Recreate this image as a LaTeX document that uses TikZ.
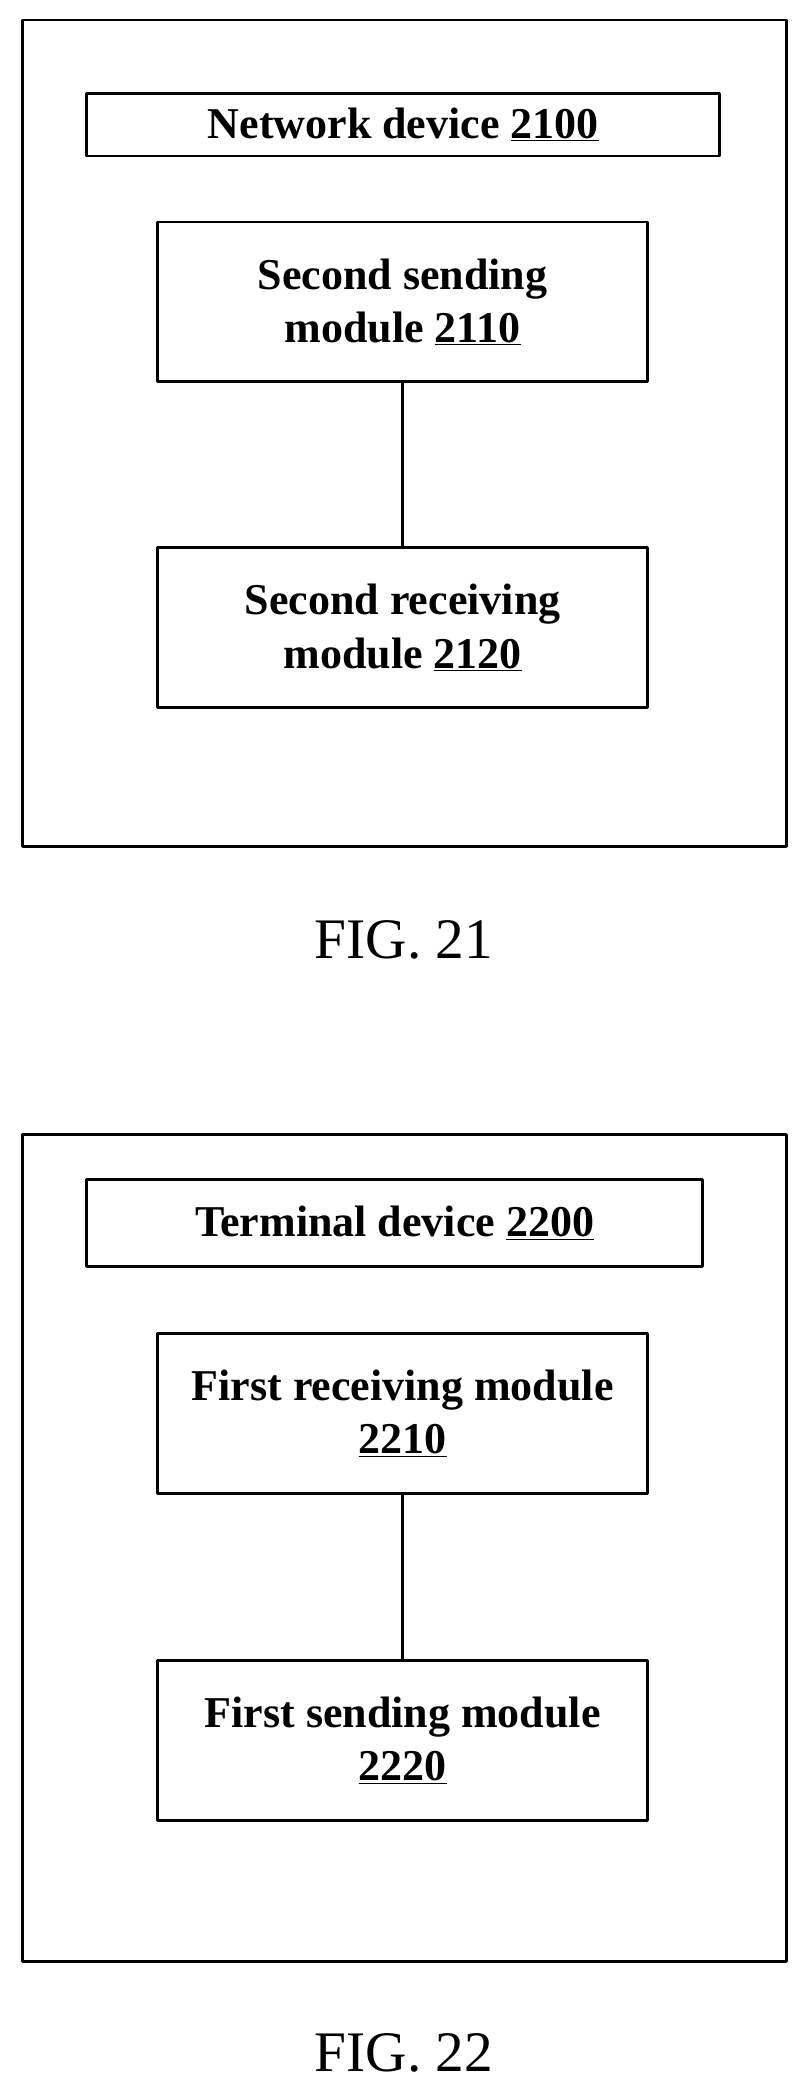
\documentclass[tikz,border=0pt]{standalone}
\usepackage{fontspec}
\setmainfont{Liberation Serif}
\usepackage{tikz}
\usetikzlibrary{positioning}

\tikzset{
  outer/.style={draw,line width=2.2pt},
  headbox/.style={draw,line width=2.2pt,font=\fontsize{33}{40}\selectfont\bfseries},
  modbox/.style={draw,line width=2.2pt,minimum width=368pt,minimum height=120pt,align=center,
    font=\fontsize{33}{40}\selectfont\bfseries},
  figlabel/.style={font=\fontsize{43}{48}\selectfont}
}

\begin{document}
\begin{tikzpicture}[x=1pt,y=-1pt,line cap=round,line join=round]
  \useasboundingbox (0,0) rectangle (606,1564);

  % FIG. 21
  \draw[outer] (17,15) rectangle (590,635);
  \node[headbox,minimum width=475pt,minimum height=47pt,inner sep=0pt] (hdA) at (302.5,93.5) {Network device \underline{2100}};
  \node[modbox] (sendA) at (302,226.5) {Second sending\\module \underline{2110}};
  \node[modbox] (recvA) at (302,471) {Second receiving\\module \underline{2120}};
  \draw[line width=2.2pt] (sendA) -- (recvA);
  \node[figlabel] (figA) at (303,705) {FIG. 21};

  % FIG. 22
  \draw[outer] (17,851) rectangle (590,1471);
  \node[headbox,minimum width=462pt,minimum height=65pt,inner sep=0pt] (hdB) at (296,917.5) {Terminal device \underline{2200}};
  \node[modbox] (recvB) at (302,1060) {First receiving module\\\underline{2210}};
  \node[modbox] (sendB) at (302,1305.5) {First sending module\\\underline{2220}};
  \draw[line width=2.2pt] (recvB) -- (sendB);
  \node[figlabel] (figB) at (303,1540) {FIG. 22};
\end{tikzpicture}
\end{document}
